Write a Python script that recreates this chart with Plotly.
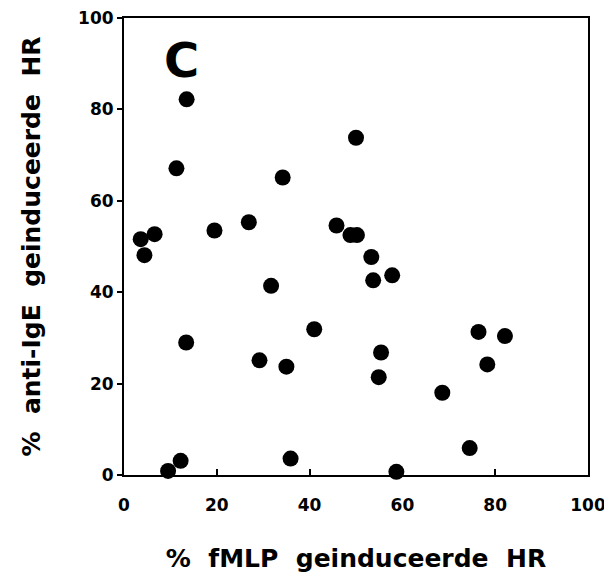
import plotly.graph_objects as go

fmlp_hr = [3.6, 6.6, 4.4, 13.5, 11.3, 19.5, 26.9, 34.2, 50.0, 45.8, 48.8, 50.2,
           53.3, 53.7, 57.8, 31.7, 13.4, 29.2, 35.0, 9.5, 12.2, 35.9, 41.0, 55.4,
           54.9, 58.7, 76.4, 82.1, 78.3, 68.6, 74.5]
anti_ige_hr = [51.6, 52.7, 48.1, 82.2, 67.1, 53.5, 55.3, 65.1, 73.8, 54.6, 52.5, 52.5,
               47.7, 42.6, 43.7, 41.4, 29.0, 25.1, 23.7, 0.9, 3.1, 3.6, 31.9, 26.8,
               21.4, 0.7, 31.3, 30.4, 24.2, 18.0, 5.9]
tick_vals = [0, 20, 40, 60, 80, 100]
tick_text = ["0", "20", "40", "60", "80", "100"]

NB = "\u00a0"
x_title = f"%{NB*2}fMLP{NB*2}geinduceerde{NB*2}HR"
y_title = f"%{NB*2}anti-IgE{NB*2}geinduceerde{NB*2}HR"
FONT = "DejaVu Sans, Liberation Sans, Arial, sans-serif"

fig = go.Figure(go.Scatter(
    x=fmlp_hr, y=anti_ige_hr, mode="markers",
    marker=dict(size=16, color="black", line=dict(width=0)),
    cliponaxis=False, showlegend=False,
))

axis_common = dict(
    range=[0, 100], tickvals=tick_vals, ticktext=tick_text, automargin=False,
    showgrid=False, zeroline=False, showline=True, mirror=True,
    linecolor="black", linewidth=2, tickwidth=2, tickcolor="black",
    ticklabeloverflow="allow",
    tickfont=dict(family=FONT, size=17, color="black", weight="bold"),
)

fig.update_xaxes(**axis_common, ticks="inside", ticklen=6, ticklabelstandoff=14,
                 title=dict(text=x_title, standoff=36,
                            font=dict(family=FONT, size=25, color="black", weight="bold")))
fig.update_yaxes(**axis_common, ticks="outside", ticklen=5, ticklabelstandoff=0,
                 title=dict(text=y_title, standoff=30,
                            font=dict(family=FONT, size=25, color="black", weight="bold")))

fig.add_annotation(text="C", xref="paper", yref="paper", x=0.123, y=0.909,
                   showarrow=False, xanchor="center", yanchor="middle",
                   font=dict(family=FONT, size=48, color="black", weight="bold"))

# the page body adds an 8px offset, so the figure is sized to fit the window
fig.update_layout(
    width=604, height=565,
    margin=dict(l=116, r=24, t=10, b=98),
    paper_bgcolor="white", plot_bgcolor="white",
)

fig.write_html("out.html")
